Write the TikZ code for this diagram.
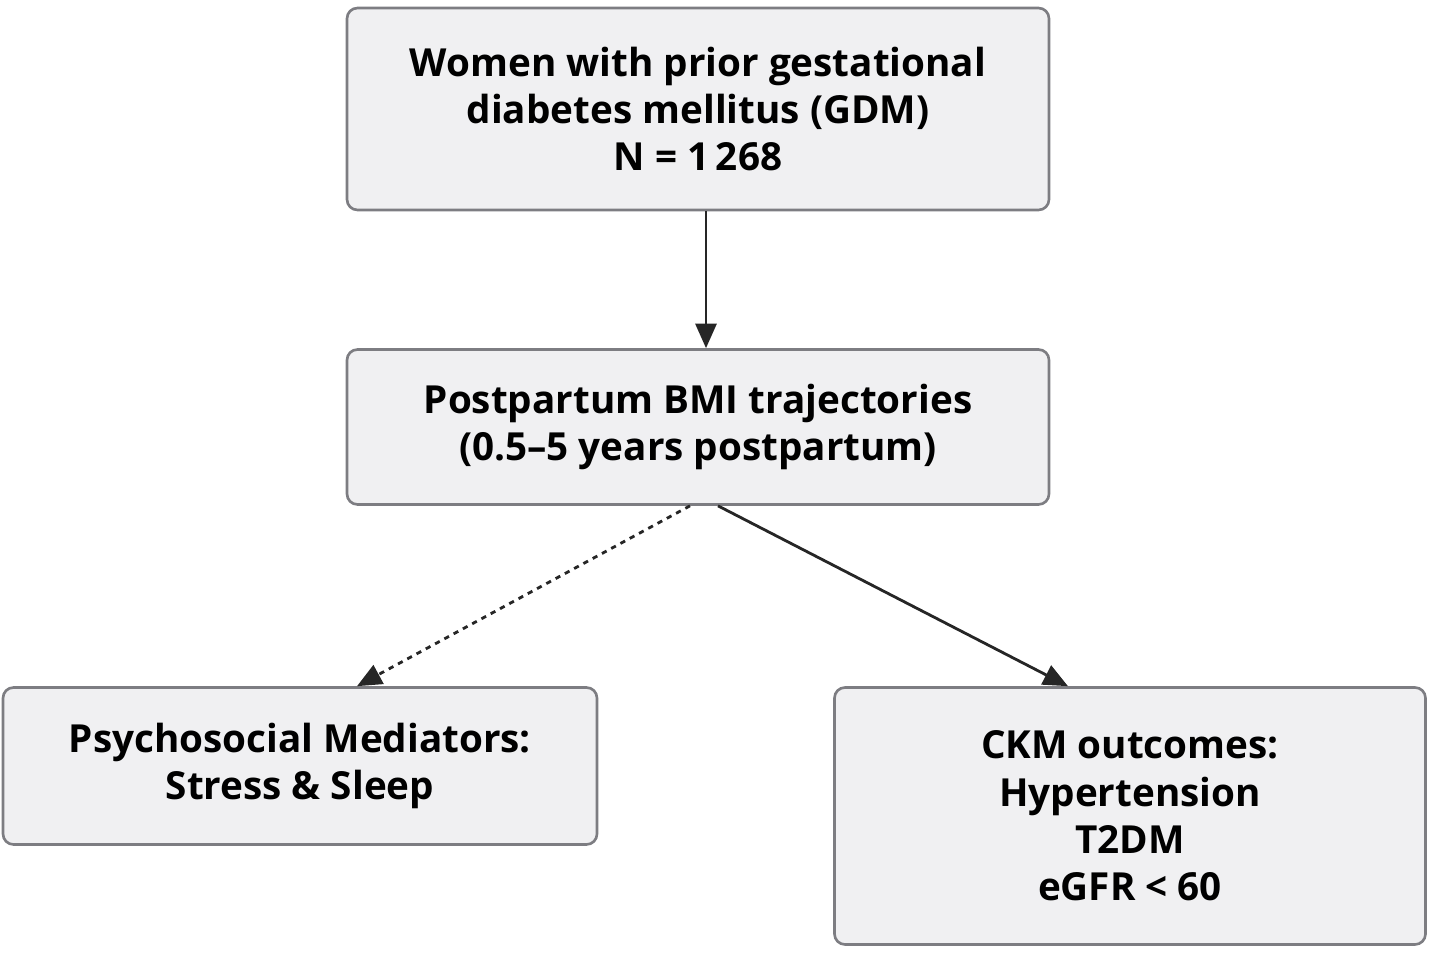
\documentclass[tikz,border=0pt]{standalone}
\usepackage{fontspec}
\setmainfont{Open Sans}
\usetikzlibrary{arrows.meta}
\definecolor{boxfill}{RGB}{240,240,242}
\definecolor{boxline}{RGB}{125,125,130}
\begin{document}
\begin{tikzpicture}[x=0.02cm,y=-0.02cm,
    stagebox/.style={rectangle, draw=boxline, fill=boxfill, line width=1.5pt,
      rounded corners=6pt, align=center, inner sep=0pt,
      font=\fontsize{22}{27}\selectfont\bfseries},
    flow/.style={-{Triangle[length=14pt,width=12pt]}, line width=1.6pt, draw=black!85}
    ]
    \useasboundingbox (0,0) rectangle (1434,953);
    \node[stagebox, minimum width=702*0.02cm, minimum height=202*0.02cm] (gdm) at (698,109)
      {Women with prior gestational\\diabetes mellitus (GDM)\\N = 1\,268};
    \node[stagebox, minimum width=702*0.02cm, minimum height=155*0.02cm] (bmi) at (698,427)
      {Postpartum BMI trajectories\\(0.5–5 years postpartum)};
    \node[stagebox, minimum width=594*0.02cm, minimum height=157*0.02cm] (psy) at (300,766)
      {Psychosocial Mediators:\\Stress \& Sleep};
    \node[stagebox, minimum width=591*0.02cm, minimum height=257*0.02cm] (ckm) at (1130,816)
      {CKM outcomes:\\Hypertension\\T2DM\\eGFR < 60};
    \draw[flow] (gdm.south -| 706,0) -- (bmi.north -| 706,0);
    \draw[flow, dashed] (bmi.south -| 690,0) -- (psy.north -| 357,0);
    \draw[flow] (bmi.south -| 718,0) -- (ckm.north -| 1068,0);
\end{tikzpicture}
\end{document}
